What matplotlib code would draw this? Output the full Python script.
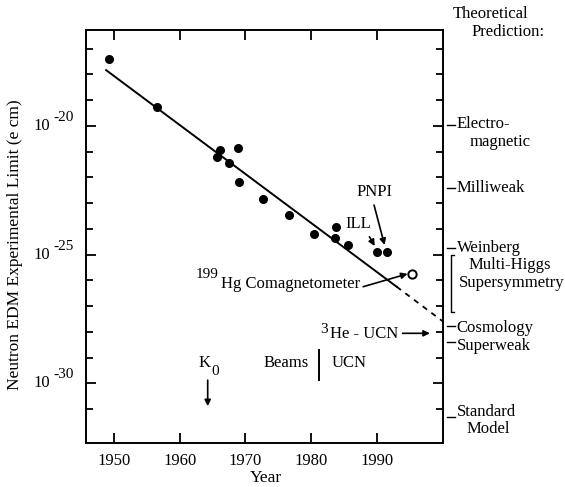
# neutron EDM limit vs year, with theory predictions on the right
import matplotlib
matplotlib.use('Agg')
import matplotlib.pyplot as plt
import matplotlib.transforms as mtransforms
from matplotlib.ticker import FixedLocator, NullFormatter
import numpy as np

plt.rcParams['font.family'] = ['Liberation Serif', 'DejaVu Serif']

# measured limits (e cm)
years = [1949.2, 1956.6, 1965.7, 1966.2, 1967.5, 1968.9, 1969.0, 1972.7,
         1976.6, 1980.4, 1983.6, 1983.8, 1985.6, 1990.0, 1991.5]
limits = [4.1e-18, 5.5e-20, 6.0e-22, 1.17e-21, 3.5e-22, 1.35e-21, 6.6e-23, 1.45e-23,
          3.4e-24, 6.5e-25, 4.4e-25, 1.15e-24, 2.3e-25, 1.26e-25, 1.26e-25]

# 199Hg comagnetometer (open circle)
hg_year = [1995.4]
hg_limit = [1.75e-26]

# trend line, solid part then dashed projection
trend_years = [1948.8, 1993.05]
trend_vals = [1.45e-18, 5.6e-27]
proj_years = [1993.05, 2000.1]
proj_vals = [5.6e-27, 2.5e-28]

# theoretical predictions on the right
theory_names = ['Electro-', 'Milliweak', 'Weinberg', 'Cosmology', 'Superweak', 'Standard']
theory_vals = [1.1e-20, 4.0e-23, 1.8e-25, 1.65e-28, 4.0e-29, 5.0e-32]
susy_range = [1.0e-25, 6.0e-28]

xticks = [1950, 1960, 1970, 1980, 1990]
major_exp = [-30, -25, -20]
minor_exp = [-31, -29, -28, -27, -26, -24, -23, -22, -21, -19, -18, -17]

fig = plt.figure(figsize=(5.65, 4.87), dpi=100)
ax = fig.add_axes([86/565, 44/487, 357/565, 413/487])

ax.plot(trend_years, trend_vals, color='black', lw=1.4)
ax.plot(proj_years, proj_vals, color='black', lw=1.3, linestyle=(0, (3, 3)), clip_on=False)
ax.plot(years, limits, 'o', color='black', markersize=5.5)
ax.plot(hg_year, hg_limit, 'o', markerfacecolor='white', markeredgecolor='black',
        markeredgewidth=1.4, markersize=6)

ax.set_yscale('log')
ax.set_xlim(1945.74, 2000.1)
ax.set_ylim(10**-32.32, 10**-16.28)
ax.set_xticks(xticks)
ax.yaxis.set_major_locator(FixedLocator([10.0**e for e in major_exp]))
ax.yaxis.set_minor_locator(FixedLocator([10.0**e for e in minor_exp]))
ax.yaxis.set_minor_formatter(NullFormatter())
ax.set_yticklabels([])

for s in ax.spines.values():
    s.set_linewidth(1.4)
ax.tick_params(which='both', direction='in', top=True, right=True, width=1.3, labelsize=12)
ax.tick_params(which='major', length=7.5)
ax.tick_params(which='minor', length=5)
ax.tick_params(axis='x', pad=7)

tr = mtransforms.blended_transform_factory(ax.transAxes, ax.transData)

# "10 -20" style labels, exponent almost full size
for e in major_exp:
    ax.text(-0.1008, 10.0**e, '10', transform=tr, ha='right', va='center', fontsize=12)
    ax.text(-0.0924, 10.0**(e + 0.33), '\u2010%d' % abs(e), transform=tr, ha='left',
            va='center', fontsize=11)

fig.text(15/565, 1 - 244.5/487, 'Neutron EDM Experimental Limit (e cm)', rotation=90,
         ha='center', va='center', fontsize=12.5)
fig.text(265.5/565, 1 - 478/487, 'Year', ha='center', va='center', fontsize=12.5)
fig.text(453/565, 1 - 14/487, 'Theoretical', ha='left', va='center', fontsize=12)
fig.text(472/565, 1 - 32.5/487, 'Prediction:', ha='left', va='center', fontsize=12)

# right hand labels
for name, v in zip(theory_names, theory_vals):
    ax.plot([1.012, 1.034], [v, v], color='black', lw=1.0, transform=tr, clip_on=False)
label_pos = [('Electro-', 1.038, 10**-19.93), ('magnetic', 1.074, 10**-20.62),
             ('Milliweak', 1.038, 10**-22.40), ('Weinberg', 1.038, 10**-24.76),
             ('Multi-Higgs', 1.071, 10**-25.40), ('Supersymmetry', 1.045, 10**-26.12),
             ('Cosmology', 1.038, 10**-27.85), ('Superweak', 1.038, 10**-28.55),
             ('Standard', 1.038, 10**-31.13), ('Model', 1.066, 10**-31.78)]
for txt, xx, yy in label_pos:
    ax.text(xx, yy, txt, transform=tr, ha='left', va='center', fontsize=12, clip_on=False)
# supersymmetry bracket
ax.plot([1.031, 1.0215, 1.0215, 1.031], [susy_range[0], susy_range[0], susy_range[1], susy_range[1]],
        color='black', lw=1.0, transform=tr, clip_on=False)

arrow = dict(arrowstyle='-|>', color='black', lw=1.2, mutation_scale=9, shrinkA=0, shrinkB=0)

ax.text(1989.6, 10**-22.56, 'PNPI', ha='center', va='center', fontsize=12)
ax.annotate('', xy=(1991.2, 10**-24.63), xytext=(1989.6, 10**-23.08), arrowprops=arrow)
ax.text(1987.2, 10**-23.83, 'ILL', ha='center', va='center', fontsize=12)
ax.annotate('', xy=(1989.7, 10**-24.67), xytext=(1988.9, 10**-24.31), arrowprops=arrow)

ax.text(1987.46, 10**-26.31, 'Hg Comagnetometer', ha='right', va='baseline', fontsize=12)
ax.text(1965.91, 10**-25.91, '199', ha='right', va='baseline', fontsize=11)
ax.annotate('', xy=(1994.7, 10**-25.75), xytext=(1987.95, 10**-26.25), arrowprops=arrow)

ax.text(1982.0, 10**-27.93, '3', ha='center', va='center', fontsize=11)
ax.text(1993.3, 10**-28.26, 'He - UCN', ha='right', va='baseline', fontsize=12)
ax.annotate('', xy=(1998.1, 10**-28.06), xytext=(1993.95, 10**-28.06), arrowprops=arrow)

ax.text(1963.75, 10**-29.2, 'K', ha='center', va='center', fontsize=12)
ax.text(1965.46, 10**-29.55, '0', ha='center', va='center', fontsize=11)
ax.annotate('', xy=(1964.27, 10**-30.89), xytext=(1964.27, 10**-29.88), arrowprops=arrow)

ax.text(1976.16, 10**-29.23, 'Beams', ha='center', va='center', fontsize=12)
ax.plot([1981.22, 1981.22], [10**-28.71, 10**-29.88], color='black', lw=1.4)
ax.text(1985.75, 10**-29.23, 'UCN', ha='center', va='center', fontsize=12)

fig.savefig('out.png', dpi=100)
